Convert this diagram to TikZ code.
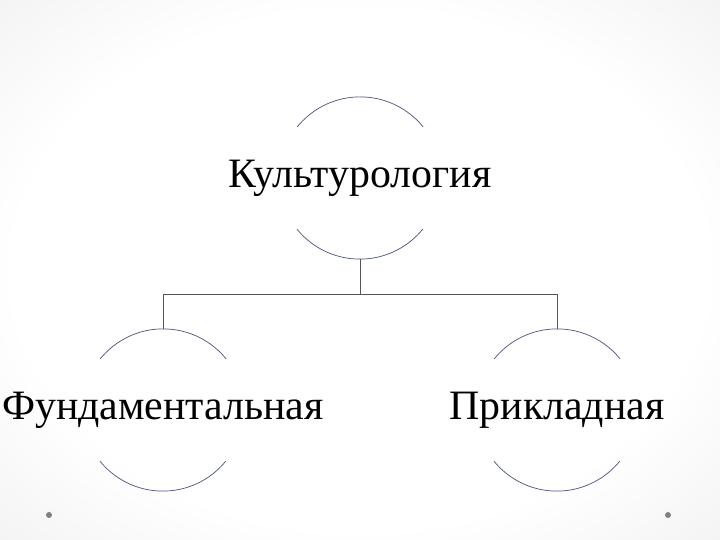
\documentclass[tikz,border=0pt]{standalone}
\usepackage{fontspec}
\setmainfont{Liberation Serif}
\usetikzlibrary{calc}
\pgfdeclareradialshading{slidebg}{\pgfpoint{0bp}{0bp}}{color(0bp)=(white); color(24bp)=(white); color(71bp)=(black!18)}
\definecolor{ringblue}{RGB}{72,82,122}
\definecolor{forkgray}{RGB}{85,85,85}
\tikzset{
	word/.style={font=\fontsize{42}{46}\selectfont, inner sep=0pt},
	ring/.style={circle, minimum size=162bp, inner sep=0pt, draw=none},
	ringline/.style={line width=0.7pt, color=ringblue},
	forkline/.style={line width=0.7pt, color=forkgray}
}

\begin{document}
\begin{tikzpicture}[x=1bp, y=1bp]
		%%%%% START %%%%%
		
		\fill[shading=slidebg] (0, 0) rectangle (720, 540);
		
		\node[ring] (topring) at (360, 362) {};
		\node[ring] (leftring) at (163, 130) {};
		\node[ring] (rightring) at (557, 130) {};
		
		\node[word] (top) at (topring) {Культурология};
		\node[word] (left) at (leftring) {Фундаментальная};
		\node[word] (right) at (rightring) {Прикладная};
		
		\foreach \r in {topring, leftring, rightring} {
			\draw[ringline] (\r.39) arc (39:141:81);
			\draw[ringline] (\r.219) arc (219:321:81);
		}
		
		\coordinate (fork) at ($(topring.south)+(0, -35)$);
		\draw[forkline] (topring.south) -- (fork);
		\draw[forkline] (leftring.north) |- (fork) -| (rightring.north);
		
		\fill[color=black!50] (49, 25) circle (3) coordinate (dotleft);
		\fill[color=black!50] (668, 25) circle (3) coordinate (dotright);
		
		%%%%% END %%%%%
	\end{tikzpicture}
\end{document}
